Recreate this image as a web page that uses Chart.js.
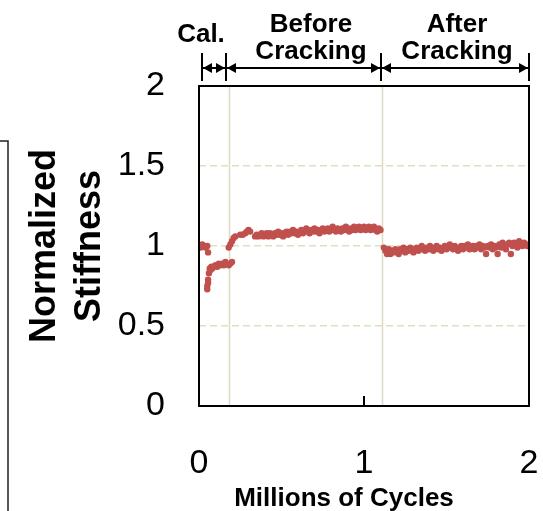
<!DOCTYPE html>
<html>
<head>
<meta charset="utf-8">
<script src="https://cdn.jsdelivr.net/npm/chart.js@4.4.0/dist/chart.umd.min.js"></script>
<style>
  html, body { margin: 0; padding: 0; background: #fff; }
  canvas { display: block; }
</style>
</head>
<body>
<canvas id="stiffness-chart" width="543" height="511"></canvas>
<script>
// Calibration phase (millions of cycles, normalized stiffness)
var calX = [0.00, 0.01, 0.02, 0.03, 0.04, 0.05, 0.055,
  0.06, 0.065, 0.07, 0.075, 0.08, 0.09, 0.10, 0.11, 0.12, 0.13, 0.14, 0.15, 0.16, 0.17, 0.18, 0.19, 0.20,
  0.055, 0.055, 0.05, 0.05,
  0.18, 0.19, 0.20, 0.21, 0.22,
  0.25, 0.265, 0.28, 0.29, 0.30, 0.31];
var calY = [1.00, 0.99, 1.01, 1.00, 0.99, 1.00, 0.96,
  0.83, 0.86, 0.85, 0.87, 0.86, 0.87, 0.88, 0.87, 0.89, 0.88, 0.89, 0.88, 0.90, 0.89, 0.88, 0.89, 0.90,
  0.79, 0.77, 0.75, 0.73,
  0.99, 1.01, 1.03, 1.05, 1.06,
  1.07, 1.07, 1.08, 1.09, 1.10, 1.09];

// Before cracking
var beforeX = [0.34, 0.35, 0.36, 0.37, 0.38, 0.39, 0.40, 0.41, 0.42, 0.43, 0.44, 0.45, 0.46, 0.47, 0.48, 0.49,
  0.50, 0.51, 0.52, 0.53, 0.54, 0.55, 0.56, 0.57, 0.58, 0.59, 0.60, 0.61, 0.62, 0.63, 0.64, 0.65, 0.66, 0.67,
  0.68, 0.69, 0.70, 0.71, 0.72, 0.73, 0.74, 0.75, 0.76, 0.77, 0.78, 0.79, 0.80, 0.81, 0.82, 0.83, 0.84, 0.85,
  0.86, 0.87, 0.88, 0.89, 0.90, 0.91, 0.92, 0.93, 0.94, 0.95, 0.96, 0.97, 0.98, 0.99, 1.00, 1.01, 1.02, 1.03,
  1.04, 1.05, 1.06, 1.07, 1.08, 1.09, 1.10];
var beforeY = [1.06, 1.07, 1.06, 1.07, 1.08, 1.06, 1.07, 1.08, 1.06, 1.08, 1.07, 1.06, 1.08, 1.07, 1.09, 1.07,
  1.08, 1.06, 1.08, 1.09, 1.07, 1.09, 1.08, 1.10, 1.08, 1.09, 1.07, 1.09, 1.10, 1.08, 1.09, 1.11, 1.09, 1.08,
  1.10, 1.09, 1.11, 1.09, 1.10, 1.08, 1.10, 1.11, 1.09, 1.10, 1.11, 1.09, 1.10, 1.12, 1.10, 1.09, 1.11, 1.10,
  1.09, 1.11, 1.10, 1.12, 1.10, 1.09, 1.11, 1.10, 1.12, 1.10, 1.11, 1.12, 1.10, 1.11, 1.12, 1.10, 1.11, 1.12,
  1.10, 1.11, 1.12, 1.10, 1.09, 1.11, 1.10];

// After cracking
var afterX = [1.12, 1.13, 1.14, 1.15, 1.16, 1.17, 1.18, 1.19, 1.20, 1.21, 1.22, 1.23, 1.24, 1.25, 1.26, 1.27,
  1.28, 1.29, 1.30, 1.31, 1.32, 1.33, 1.34, 1.35, 1.36, 1.37, 1.38, 1.39, 1.40, 1.41, 1.42, 1.43, 1.44, 1.45,
  1.46, 1.47, 1.48, 1.49, 1.50, 1.51, 1.52, 1.53, 1.54, 1.55, 1.56, 1.57, 1.58, 1.59, 1.60, 1.61, 1.62, 1.63,
  1.64, 1.65, 1.66, 1.67, 1.68, 1.69, 1.70, 1.71, 1.72, 1.73, 1.74, 1.75, 1.76, 1.77, 1.78, 1.79, 1.80, 1.81,
  1.82, 1.83, 1.84, 1.85, 1.86, 1.87, 1.88, 1.89, 1.90, 1.91, 1.92, 1.93, 1.94, 1.95, 1.96, 1.97, 1.98, 1.99, 2.00];
var afterY = [0.99, 0.97, 0.95, 0.98, 0.95, 0.97, 0.96, 0.98, 0.97, 0.95, 0.98, 0.97, 0.99, 0.96, 0.98, 0.97,
  0.99, 0.98, 0.96, 0.98, 0.99, 0.97, 0.98, 1.00, 0.98, 0.97, 0.99, 0.98, 1.00, 0.98, 0.97, 0.99, 1.00, 0.98,
  0.99, 0.97, 0.99, 1.00, 0.98, 0.99, 1.01, 0.99, 0.98, 1.00, 0.99, 0.97, 0.99, 1.00, 0.98, 1.00, 0.99, 1.01,
  0.98, 0.99, 1.00, 0.98, 1.00, 0.99, 1.01, 0.98, 1.00, 0.99, 0.95, 1.00, 0.99, 1.01, 0.98, 1.00, 0.99, 0.95,
  1.01, 0.99, 1.02, 1.00, 0.98, 1.01, 1.02, 0.95, 1.00, 1.02, 1.01, 0.99, 1.03, 1.01, 1.00, 1.02, 1.01, 1.00, 1.01];

var yTicks = [0, 0.5, 1, 1.5, 2];
var xTicks = [0, 1, 2];
var phaseLines = [0.18, 1.11];
var phaseMarks = [0.02, 0.165, 1.105, 2.0];
var phaseLabels = [["Cal."], ["Before", "Cracking"], ["After", "Cracking"]];

var FONT = "'Liberation Sans', Arial, sans-serif";
var RED = "rgb(192, 80, 77)";

function toPoints(xs, ys) {
  return xs.map(function (x, i) { return { x: x, y: ys[i] }; });
}

// Extra drawing: phase lines, frame, tick, titles, top annotations
var decor = {
  id: "decor",
  beforeDatasetsDraw: function (chart) {
    var ctx = chart.ctx, a = chart.chartArea, xs = chart.scales.x;
    ctx.save();
    ctx.strokeStyle = "rgb(221, 217, 195)";
    ctx.lineWidth = 1.5;
    phaseLines.forEach(function (v) {
      var px = Math.round(xs.getPixelForValue(v)) + 0.5;
      ctx.beginPath();
      ctx.moveTo(px, a.top);
      ctx.lineTo(px, a.bottom);
      ctx.stroke();
    });
    ctx.restore();
  },
  afterDraw: function (chart) {
    var ctx = chart.ctx, a = chart.chartArea, xs = chart.scales.x;
    ctx.save();

    // plot box
    ctx.strokeStyle = "#000";
    ctx.lineWidth = 2;
    ctx.strokeRect(a.left, a.top, a.right - a.left, a.bottom - a.top);

    // inner tick at x = 1
    var tx = Math.round(xs.getPixelForValue(1));
    ctx.beginPath();
    ctx.moveTo(tx, a.bottom);
    ctx.lineTo(tx, a.bottom - 10);
    ctx.stroke();

    // frame edge from neighbouring panel
    ctx.lineWidth = 1.5;
    ctx.strokeStyle = "#222";
    ctx.beginPath();
    ctx.moveTo(0, 141);
    ctx.lineTo(8, 141);
    ctx.lineTo(8, 511);
    ctx.stroke();

    // axis titles
    ctx.fillStyle = "#000";
    ctx.font = "bold 36px " + FONT;
    ctx.textAlign = "center";
    ctx.textBaseline = "alphabetic";
    [["Normalized", 55], ["Stiffness", 100]].forEach(function (t) {
      ctx.save();
      ctx.translate(t[1], 246);
      ctx.rotate(-Math.PI / 2);
      ctx.fillText(t[0], 0, 0);
      ctx.restore();
    });
    ctx.font = "bold 26px " + FONT;
    ctx.fillText("Millions of Cycles", 344, 506);

    // phase annotation arrows
    var marks = phaseMarks.map(function (v) { return Math.round(xs.getPixelForValue(v)); });
    var ay = 68;
    ctx.lineWidth = 2;
    ctx.strokeStyle = "#000";
    marks.forEach(function (m) {
      ctx.beginPath();
      ctx.moveTo(m, 53);
      ctx.lineTo(m, 81);
      ctx.stroke();
    });
    function head(x, dir) {
      ctx.beginPath();
      ctx.moveTo(x, ay);
      ctx.lineTo(x + dir * 9, ay - 5);
      ctx.lineTo(x + dir * 9, ay + 5);
      ctx.closePath();
      ctx.fill();
    }
    for (var i = 0; i < marks.length - 1; i++) {
      var x1 = marks[i] + 1, x2 = marks[i + 1] - 1;
      ctx.beginPath();
      ctx.moveTo(x1, ay);
      ctx.lineTo(x2, ay);
      ctx.stroke();
      head(x1, 1);
      head(x2, -1);
    }

    // phase labels
    var labelX = [201, 311, 457];
    ctx.font = "bold 26px " + FONT;
    phaseLabels.forEach(function (lines, i) {
      if (lines.length === 1) {
        ctx.fillText(lines[0], labelX[i], 42);
      } else {
        ctx.fillText(lines[0], labelX[i], 32);
        ctx.fillText(lines[1], labelX[i], 59);
      }
    });
    ctx.restore();
  }
};

var pointOpts = {
  backgroundColor: RED,
  borderWidth: 0,
  pointRadius: 3.2,
  pointHoverRadius: 3.2,
  showLine: false
};

new Chart(document.getElementById("stiffness-chart").getContext("2d"), {
  type: "scatter",
  data: {
    datasets: [
      Object.assign({ label: "Calibration", data: toPoints(calX, calY) }, pointOpts),
      Object.assign({ label: "Before Cracking", data: toPoints(beforeX, beforeY) }, pointOpts),
      Object.assign({ label: "After Cracking", data: toPoints(afterX, afterY) }, pointOpts)
    ]
  },
  options: {
    responsive: false,
    animation: false,
    events: [],
    layout: { padding: { left: 0, top: 86, right: 14, bottom: 0 } },
    plugins: {
      legend: { display: false },
      tooltip: { enabled: false }
    },
    scales: {
      x: {
        type: "linear",
        min: 0,
        max: 2,
        afterBuildTicks: function (scale) {
          scale.ticks = xTicks.map(function (v) { return { value: v }; });
        },
        afterFit: function (scale) {
          scale.height = 105;
          scale.paddingLeft = 0;
          scale.paddingRight = 0;
        },
        grid: { display: false },
        border: { display: false },
        ticks: {
          padding: 29,
          maxRotation: 0,
          color: "#000",
          font: { family: FONT, size: 34 }
        }
      },
      y: {
        min: 0,
        max: 2,
        afterBuildTicks: function (scale) {
          scale.ticks = yTicks.map(function (v) { return { value: v }; });
        },
        afterFit: function (scale) {
          scale.width = 199;
          scale.paddingTop = 0;
          scale.paddingBottom = 0;
        },
        grid: {
          drawTicks: false,
          lineWidth: 1.5,
          color: function (c) {
            var v = c.tick ? c.tick.value : 0;
            return (v === 0 || v === 2) ? "rgba(0,0,0,0)" : "rgb(215, 228, 189)";
          }
        },
        border: { display: false, dash: [7, 4] },
        ticks: {
          padding: 34,
          color: "#000",
          font: { family: FONT, size: 34 },
          callback: function (value) { return String(value); }
        }
      }
    }
  },
  plugins: [decor]
});
</script>
</body>
</html>
